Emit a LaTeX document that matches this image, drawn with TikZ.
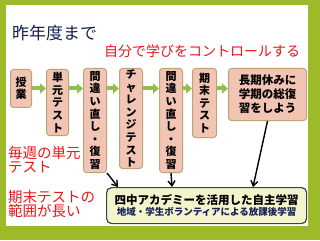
\documentclass[tikz,border=0pt]{standalone}
\usepackage{fontspec}
\setmainfont{Noto Sans CJK JP}
\usetikzlibrary{arrows.meta,positioning,calc}
\definecolor{frameg}{RGB}{156,186,42}
\definecolor{arrg}{RGB}{146,190,76}
\definecolor{boxfill}{RGB}{242,196,180}
\definecolor{boxedge}{RGB}{188,164,118}
\definecolor{acafill}{RGB}{244,244,204}
\definecolor{navy}{RGB}{22,32,84}
\definecolor{redt}{RGB}{232,24,24}
\tikzset{
  vbox/.style={draw=boxedge, fill=boxfill, line width=1pt, rounded corners=3pt,
               anchor=north west, inner sep=1pt, align=center,
               font=\fontsize{11}{12.6}\selectfont\bfseries},
  garr/.style={-{Triangle[width=10pt,length=6pt]}, arrg, line width=4pt},
  barr/.style={-{Straight Barb[length=5pt,width=7pt]}, black, line width=1.4pt},
  rtxt/.style={text=redt, align=left, inner sep=0pt, font=\fontsize{14.5}{14.5}\selectfont},
  acabox/.style={draw=black!75, fill=acafill, line width=1.2pt, rounded corners=5pt,
                 anchor=north west, minimum width=200pt, minimum height=36pt,
                 inner sep=0pt, align=center},
}
\begin{document}
\begin{tikzpicture}[x=1pt, y=-1pt]
  \useasboundingbox (0,0) rectangle (320,240);
  \fill[frameg] (0,0) rectangle (320,240);
  \fill[white] (6,5) rectangle (308,226);
  \node[anchor=west, inner sep=0pt, text=navy, font=\fontsize{17}{17}\selectfont] (last) at (12,33) {昨年度まで};
  \node[rtxt, anchor=west, font=\fontsize{14}{14}\selectfont] (self) at (104,51) {自分で学びをコントロールする};
  \node[vbox, minimum width=21pt, minimum height=38pt] (lesson) at (10,69) {授\\業};
  \node[vbox, minimum width=22pt, minimum height=66pt] (unit) at (46,69) {単\\元\\テ\\ス\\ト};
  \node[vbox, minimum width=23pt, minimum height=104pt] (fixa) at (83,68) {間\\違\\い\\直\\し\\・\\復\\習};
  \node[vbox, minimum width=23pt, minimum height=100pt] (chal) at (119,68) {チ\\ャ\\レ\\ン\\ジ\\テ\\ス\\ト};
  \node[vbox, minimum width=23pt, minimum height=104pt] (fixb) at (159,68) {間\\違\\い\\直\\し\\・\\復\\習};
  \node[vbox, minimum width=24pt, minimum height=69pt] (term) at (192,68) {期\\末\\テ\\ス\\ト};
  \node[vbox, minimum width=78pt, minimum height=52pt, font=\fontsize{11.5}{14}\selectfont\bfseries] (rest) at (228,68) {長期休みに\\学期の総復\\習をしよう};
  \draw[garr] (lesson.east) -- (unit.west |- lesson.east);
  \draw[garr] (unit.east |- lesson.east) -- (fixa.west |- lesson.east);
  \draw[garr] (fixa.east |- lesson.east) -- (chal.west |- lesson.east);
  \draw[garr] (chal.east |- lesson.east) -- (fixb.west |- lesson.east);
  \draw[garr] (fixb.east |- lesson.east) -- (term.west |- lesson.east);
  \draw[garr] (term.east |- lesson.east) -- (rest.west |- lesson.east);
  \node[rtxt, anchor=north west] (weekly) at (8,146) {毎週の単元\\テスト};
  \node[rtxt, anchor=north west] (range) at (8,190) {期末テストの\\範囲が長い};
  \node[acabox] (acad) at (106,187) {{\fontsize{11.5}{14}\selectfont\bfseries 四中アカデミーを活用した自主学習}\\[-1pt]
    {\fontsize{9.5}{12}\selectfont\bfseries\color{navy} 地域・学生ボランティアによる放課後学習}};
  \coordinate (ta) at ($(acad.north west)+(12,0)$);
  \coordinate (tb) at ($(acad.north west)+(66,0)$);
  \coordinate (tc) at ($(acad.north west)+(147,0)$);
  \draw[barr] (fixa.south east) -- (ta);
  \draw[barr] (fixb.south) -- (tb);
  \draw[barr] (rest.south) -- (tc);
\end{tikzpicture}
\end{document}
